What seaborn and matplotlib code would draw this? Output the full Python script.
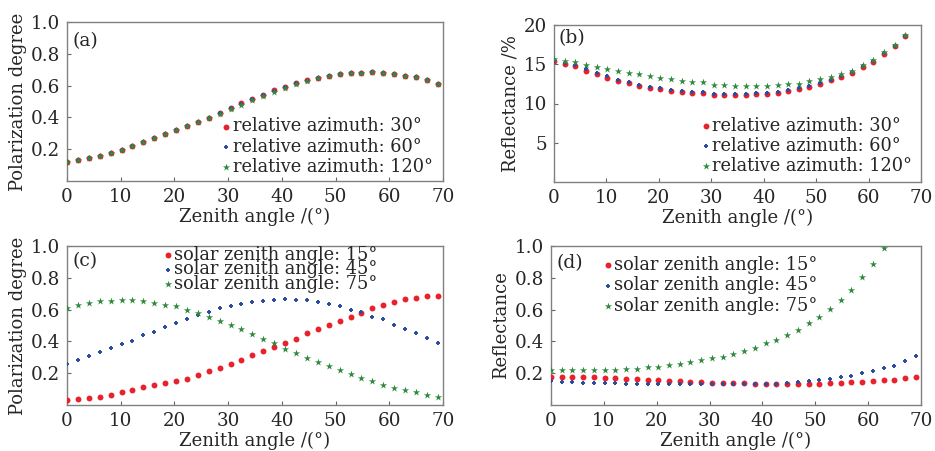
import numpy as np
import pandas as pd
import seaborn as sns
import matplotlib
matplotlib.use('Agg')
import matplotlib.pyplot as plt

# zenith angle samples (deg)
zenith = [0.0, 2.03, 4.06, 6.09, 8.12, 10.15, 12.18, 14.21, 16.24, 18.27,
          20.3, 22.33, 24.36, 26.39, 28.42, 30.45, 32.48, 34.51, 36.54, 38.57,
          40.6, 42.63, 44.66, 46.69, 48.72, 50.75, 52.78, 54.81, 56.84, 58.87,
          60.9, 62.93, 64.96, 66.99, 69.02]

# (a) polarization degree vs relative azimuth
pol_az30 = [0.121, 0.132, 0.144, 0.159, 0.174, 0.197, 0.222, 0.243, 0.270, 0.293,
            0.320, 0.344, 0.372, 0.399, 0.426, 0.461, 0.488, 0.518, 0.543, 0.570,
            0.591, 0.615, 0.633, 0.648, 0.662, 0.672, 0.678, 0.682, 0.684, 0.680,
            0.674, 0.661, 0.651, 0.634, 0.611]
pol_az60 = [0.121, 0.132, 0.144, 0.159, 0.174, 0.197, 0.222, 0.243, 0.270, 0.293,
            0.320, 0.344, 0.371, 0.398, 0.425, 0.460, 0.487, 0.517, 0.542, 0.569,
            0.590, 0.614, 0.632, 0.647, 0.662, 0.672, 0.678, 0.682, 0.684, 0.680,
            0.674, 0.661, 0.651, 0.634, 0.611]
pol_az120 = [0.121, 0.132, 0.144, 0.159, 0.174, 0.197, 0.222, 0.243, 0.270, 0.293,
             0.320, 0.343, 0.370, 0.397, 0.421, 0.452, 0.480, 0.508, 0.533, 0.562,
             0.584, 0.609, 0.628, 0.645, 0.661, 0.672, 0.678, 0.682, 0.684, 0.680,
             0.674, 0.661, 0.651, 0.634, 0.611]

# (b) reflectance (%) vs relative azimuth
ref_az30 = [15.40, 15.03, 14.73, 14.18, 13.72, 13.29, 12.83, 12.57, 12.27, 12.01,
            11.81, 11.63, 11.43, 11.30, 11.30, 11.12, 11.08, 11.08, 11.12, 11.17,
            11.25, 11.34, 11.63, 11.85, 12.10, 12.45, 12.95, 13.40, 13.90, 14.65,
            15.35, 16.35, 17.30, 18.60]
ref_az60 = [15.45, 15.10, 14.88, 14.35, 13.90, 13.45, 13.00, 12.72, 12.42, 12.15,
            11.95, 11.78, 11.58, 11.43, 11.43, 11.25, 11.20, 11.20, 11.24, 11.30,
            11.38, 11.47, 11.75, 11.97, 12.22, 12.57, 13.05, 13.50, 13.98, 14.72,
            15.40, 16.40, 17.35, 18.65]
ref_az120 = [15.67, 15.45, 15.25, 14.95, 14.69, 14.43, 14.18, 13.92, 13.72, 13.54,
             13.29, 13.12, 12.87, 12.70, 12.70, 12.40, 12.32, 12.27, 12.27, 12.19,
             12.27, 12.32, 12.45, 12.52, 12.83, 13.12, 13.34, 13.76, 14.18, 14.90,
             15.54, 16.52, 17.45, 18.73]

# (c) polarization degree vs solar zenith angle
pol_sz15 = [0.031, 0.036, 0.042, 0.050, 0.065, 0.079, 0.096, 0.111, 0.126, 0.140,
            0.153, 0.165, 0.188, 0.213, 0.234, 0.259, 0.285, 0.312, 0.337, 0.364,
            0.389, 0.418, 0.450, 0.475, 0.504, 0.529, 0.554, 0.579, 0.607, 0.628,
            0.649, 0.665, 0.674, 0.686, 0.688]
pol_sz45 = [0.257, 0.282, 0.310, 0.333, 0.360, 0.385, 0.404, 0.439, 0.460, 0.490,
            0.513, 0.540, 0.565, 0.584, 0.607, 0.621, 0.638, 0.649, 0.657, 0.661,
            0.667, 0.661, 0.659, 0.646, 0.636, 0.623, 0.600, 0.582, 0.556, 0.538,
            0.506, 0.479, 0.450, 0.423, 0.393]
pol_sz75 = [0.609, 0.632, 0.642, 0.653, 0.657, 0.663, 0.659, 0.657, 0.644, 0.632,
            0.621, 0.596, 0.579, 0.552, 0.527, 0.502, 0.475, 0.446, 0.416, 0.387,
            0.351, 0.328, 0.297, 0.272, 0.245, 0.218, 0.192, 0.167, 0.151, 0.128,
            0.109, 0.092, 0.079, 0.061, 0.050]

# (d) reflectance vs solar zenith angle
ref_sz15 = [0.179, 0.177, 0.175, 0.175, 0.173, 0.171, 0.168, 0.166, 0.164, 0.160,
            0.158, 0.154, 0.149, 0.147, 0.143, 0.141, 0.139, 0.137, 0.137, 0.135,
            0.133, 0.133, 0.133, 0.133, 0.133, 0.135, 0.137, 0.139, 0.143, 0.147,
            0.152, 0.156, 0.160, 0.168, 0.179]
ref_sz45 = [0.149, 0.145, 0.143, 0.141, 0.139, 0.137, 0.137, 0.135, 0.135, 0.133,
            0.133, 0.133, 0.133, 0.133, 0.133, 0.133, 0.133, 0.133, 0.133, 0.133,
            0.133, 0.135, 0.139, 0.143, 0.149, 0.156, 0.164, 0.175, 0.185, 0.200,
            0.215, 0.232, 0.248, 0.274, 0.310]
ref_sz75 = [0.219, 0.219, 0.219, 0.219, 0.219, 0.221, 0.223, 0.225, 0.229, 0.236,
            0.242, 0.251, 0.257, 0.269, 0.280, 0.293, 0.305, 0.322, 0.341, 0.360,
            0.387, 0.411, 0.440, 0.472, 0.514, 0.554, 0.604, 0.661, 0.724, 0.804,
            0.886, 0.985]

az_labels = ['relative azimuth: 30°', 'relative azimuth: 60°', 'relative azimuth: 120°']
sz_labels = ['solar zenith angle: 15°', 'solar zenith angle: 45°', 'solar zenith angle: 75°']

sns.set_style('ticks')
plt.rcParams['font.family'] = ['DejaVu Serif']

colors = ['#e8212b', '#2b4ea3', '#2f8a3f']
markers = ['o', 'P', '*']
sizes = [18, 10, 30]


def long_frame(series, labels):
    parts = []
    for vals, lab in zip(series, labels):
        parts.append(pd.DataFrame({'x': zenith[:len(vals)], 'y': vals, 'series': lab}))
    return pd.concat(parts, ignore_index=True)


def draw_panel(ax, series, labels, ylabel, ylim, yticks, letter, letter_pos, leg_anchor, leg_spacing):
    df = long_frame(series, labels)
    for lab, c, m, s in zip(labels, colors, markers, sizes):
        sns.scatterplot(data=df[df['series'] == lab], x='x', y='y', color=c, marker=m,
                        s=s, linewidth=0, ax=ax, label=lab, zorder=3)
    ax.set_xlim(0, 70)
    ax.set_ylim(*ylim)
    ax.set_xticks(range(0, 71, 10))
    ax.set_yticks(yticks)
    ax.set_xlabel('Zenith angle /(°)', fontsize=13, labelpad=1)
    ax.set_ylabel(ylabel, fontsize=13, labelpad=3)
    ax.tick_params(direction='in', length=3, width=0.8, color='#666666',
                   labelsize=13.2)
    ax.tick_params(axis='x', pad=5)
    ax.tick_params(axis='y', pad=5)
    for sp in ax.spines.values():
        sp.set_color('#808080')
        sp.set_linewidth(1.0)
    ax.text(letter_pos[0], letter_pos[1], letter, transform=ax.transAxes,
            fontsize=13.5, va='center', ha='left')
    handles, labs = ax.get_legend_handles_labels()
    ax.legend(handles, labs, loc='upper left', bbox_to_anchor=leg_anchor,
              frameon=False, fontsize=12.8, borderpad=0, borderaxespad=0,
              handletextpad=0.05, handlelength=0.6, labelspacing=leg_spacing,
              markerscale=1.0)


fig = plt.figure(figsize=(9.35, 4.51), dpi=100)
W, H = 935, 451
ax_a = fig.add_axes([67 / W, (H - 181) / H, 376 / W, 159 / H])
ax_b = fig.add_axes([554 / W, (H - 182) / H, 367 / W, 157 / H])
ax_c = fig.add_axes([67 / W, (H - 405) / H, 376 / W, 159 / H])
ax_d = fig.add_axes([551 / W, (H - 405) / H, 370 / W, 159 / H])

draw_panel(ax_a, [pol_az30, pol_az60, pol_az120], az_labels, 'Polarization degree',
           (0, 1), [0.2, 0.4, 0.6, 0.8, 1.0], '(a)', (0.015, 0.88), (0.41, 0.40), 0.12)
draw_panel(ax_b, [ref_az30, ref_az60, ref_az120], az_labels, 'Reflectance /%',
           (0, 20), [5, 10, 15, 20], '(b)', (0.012, 0.915), (0.4, 0.415), 0.12)
draw_panel(ax_c, [pol_sz15, pol_sz45, pol_sz75], sz_labels, 'Polarization degree',
           (0, 1), [0.2, 0.4, 0.6, 0.8, 1.0], '(c)', (0.015, 0.905), (0.255, 1.0), -0.2)
draw_panel(ax_d, [ref_sz15, ref_sz45, ref_sz75], sz_labels, 'Reflectance',
           (0, 1), [0.2, 0.4, 0.6, 0.8, 1.0], '(d)', (0.016, 0.893), (0.14, 0.94), 0.15)

ax_a.set_yticklabels(['0.2', '0.4', '0.6', '0.8', '1.0'])
ax_b.set_yticklabels(['5', '10', '15', '20'])

fig.savefig('out.png', dpi=100)
